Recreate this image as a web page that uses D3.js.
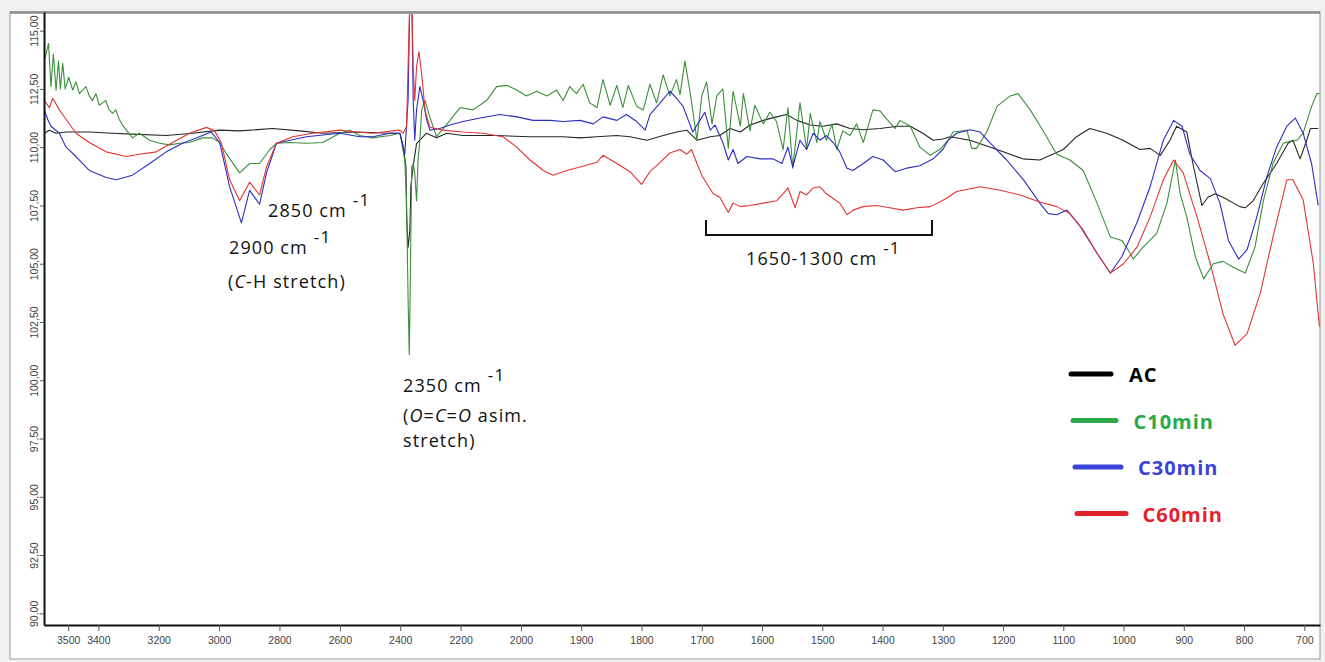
<!DOCTYPE html>
<html>
<head>
<meta charset="utf-8">
<script src="https://cdn.jsdelivr.net/npm/d3@7"></script>
<style>
  body { margin: 0; background: #f1f1f1; }
  svg { display: block; }
  .annot { font-family: "Comic Sans MS", "Open Sans", sans-serif; font-size: 18px; letter-spacing: 1.1px; fill: #111; }
  .legend-label { font-family: "Comic Sans MS", "Open Sans", sans-serif; font-size: 20px; letter-spacing: 1px; font-weight: bold; }
  .axis text { font-family: "Liberation Sans", Arial, sans-serif; font-size: 10.5px; fill: #444; }
</style>
</head>
<body>
<svg id="chart" width="1325" height="662"></svg>
<script>
// wavenumber (cm-1), transmittance (%)
const acData = [
  [3579,110.6],[3562,110.73],[3540,110.6],[3507,110.65],[3430,110.65],[3353,110.6],[3287,110.56],[3175,110.5],
  [3088,110.6],[2998,110.73],[2932,110.7],[2823,110.8],[2733,110.7],[2657,110.6],[2545,110.65],[2434,110.6],
  [2401,110.6],[2390,110.0],[2381,109.15],[2379,107.0],[2374,105.7],[2368,106.45],[2365,108.3],[2357,109.2],
  [2346,110.15],[2335,110.3],[2313,110.6],[2280,110.4],[2246,110.6],[2192,110.5],[2081,110.5],[1985,110.45],
  [1930,110.45],[1902,110.4],[1874,110.45],[1841,110.5],[1819,110.45],[1791,110.3],[1764,110.5],[1742,110.65],
  [1725,110.73],[1708,110.3],[1686,110.45],[1670,110.5],[1653,110.8],[1636,110.65],[1620,110.95],[1598,111.15],
  [1576,111.3],[1559,111.4],[1542,111.15],[1520,110.95],[1499,110.9],[1476,111.0],[1454,110.8],[1432,110.75],
  [1404,110.8],[1376,110.9],[1354,110.9],[1333,110.6],[1316,110.3],[1300,110.35],[1288,110.45],[1255,110.3],
  [1210,109.9],[1167,109.5],[1139,109.45],[1100,109.9],[1078,110.45],[1056,110.8],[1028,110.6],[1001,110.3],
  [973,109.9],[956,109.95],[939,109.65],[923,110.3],[912,110.9],[895,110.65],[885,109.3],[870,107.5],
  [860,107.85],[848,108.0],[835,107.85],[807,107.45],[798,107.4],[785,107.7],[768,108.45],[746,109.3],
  [727,110.17],[719,110.3],[707,109.5],[696,110.3],[690,110.8],[677,110.8]
];

const c10Data = [
  [3579,113.7],[3565,114.45],[3557,112.6],[3549,114.0],[3540,112.45],[3532,113.7],[3526,112.5],[3518,113.6],
  [3510,112.5],[3498,113.0],[3485,112.45],[3474,112.8],[3463,112.3],[3452,112.45],[3441,112.6],[3430,112.2],
  [3419,112.0],[3408,112.3],[3397,111.8],[3386,111.9],[3375,112.0],[3364,111.6],[3353,111.45],[3342,111.6],
  [3331,111.2],[3320,110.95],[3287,110.4],[3264,110.6],[3230,110.3],[3197,110.17],[3164,110.1],[3131,110.17],
  [3098,110.2],[3055,110.4],[3022,110.4],[2998,110.2],[2975,109.7],[2932,108.9],[2899,109.3],[2866,109.3],
  [2832,109.9],[2809,110.17],[2766,110.2],[2711,110.17],[2657,110.2],[2600,110.6],[2567,110.73],[2534,110.5],
  [2491,110.4],[2434,110.5],[2401,110.6],[2385,109.45],[2379,107.7],[2374,103.45],[2370,101.1],[2366,104.9],
  [2362,109.15],[2357,109.3],[2352,108.9],[2346,107.7],[2341,109.45],[2335,110.3],[2329,111.6],[2318,112.0],
  [2302,111.3],[2280,110.45],[2235,111.15],[2202,111.7],[2159,111.6],[2114,112.0],[2081,112.6],[2047,112.65],
  [2014,112.45],[1991,112.2],[1974,112.4],[1957,112.2],[1941,112.45],[1930,112.0],[1919,112.6],[1908,112.3],
  [1897,112.7],[1886,111.9],[1874,111.7],[1864,112.9],[1852,111.8],[1841,112.65],[1831,111.7],[1822,112.65],
  [1808,111.75],[1797,111.6],[1786,112.7],[1775,111.9],[1764,113.1],[1753,112.2],[1742,112.9],[1736,112.25],
  [1728,113.7],[1719,112.3],[1708,110.3],[1700,112.2],[1692,112.8],[1683,111.0],[1675,112.2],[1665,112.5],
  [1656,109.95],[1648,112.4],[1636,110.9],[1631,112.3],[1620,110.7],[1612,111.8],[1598,111.0],[1587,111.5],
  [1576,111.1],[1565,109.9],[1557,111.7],[1549,109.1],[1537,111.9],[1526,109.9],[1520,111.45],[1509,110.2],
  [1504,111.1],[1493,110.3],[1484,111.0],[1476,109.9],[1466,110.7],[1454,110.5],[1443,111.0],[1432,110.2],
  [1416,111.6],[1404,111.55],[1393,111.2],[1379,110.8],[1371,111.15],[1354,110.9],[1338,110.0],[1321,109.65],
  [1305,109.9],[1291,110.3],[1283,110.65],[1260,110.73],[1252,109.95],[1244,109.95],[1227,110.65],[1210,111.75],
  [1188,112.2],[1175,112.3],[1155,111.6],[1134,110.73],[1111,109.7],[1089,109.45],[1067,109.0],[1044,107.6],
  [1022,106.15],[1003,106.0],[989,105.45],[984,105.2],[968,105.7],[945,106.3],[928,107.6],[914,109.45],
  [906,108.0],[895,107.0],[881,105.3],[867,104.35],[851,105.0],[835,105.1],[818,104.85],[798,104.6],
  [782,105.7],[768,107.7],[752,109.3],[735,110.17],[724,110.25],[712,110.3],[702,110.6],[688,111.75],
  [679,112.3],[675,112.3]
];

const c30Data = [
  [3579,111.6],[3568,111.2],[3557,110.9],[3529,110.6],[3507,110.0],[3474,109.6],[3430,109.0],[3374,108.7],
  [3341,108.6],[3287,108.8],[3230,109.3],[3175,109.8],[3121,110.17],[3065,110.45],[3026,110.65],[2998,110.2],
  [2965,108.3],[2926,106.75],[2899,108.15],[2866,107.55],[2843,108.9],[2810,110.17],[2711,110.45],[2600,110.6],
  [2534,110.45],[2491,110.45],[2434,110.6],[2401,110.6],[2390,110.0],[2385,109.7],[2374,112.0],[2368,116.5],
  [2362,116.5],[2357,112.0],[2352,110.3],[2346,111.6],[2335,112.6],[2324,112.0],[2313,111.2],[2302,110.73],
  [2269,110.8],[2235,110.95],[2192,111.1],[2136,111.25],[2070,111.4],[2014,111.3],[1980,111.15],[1952,111.15],
  [1930,111.1],[1902,111.15],[1880,111.0],[1864,111.3],[1841,111.15],[1825,111.4],[1808,111.1],[1794,110.73],
  [1786,111.4],[1769,111.9],[1753,112.4],[1742,112.1],[1731,111.75],[1715,110.65],[1703,111.15],[1695,111.5],
  [1686,110.73],[1678,110.95],[1665,110.2],[1656,109.45],[1648,109.9],[1640,109.3],[1625,109.6],[1603,109.5],
  [1582,109.5],[1567,109.3],[1557,110.0],[1549,109.15],[1537,110.3],[1526,109.9],[1515,110.6],[1504,110.3],
  [1493,110.5],[1482,110.2],[1471,109.8],[1459,109.1],[1449,109.0],[1432,109.3],[1416,109.6],[1399,109.45],
  [1379,108.95],[1360,109.1],[1338,109.2],[1316,109.5],[1300,109.9],[1291,110.3],[1277,110.6],[1255,110.75],
  [1238,110.65],[1222,110.2],[1194,109.45],[1166,108.6],[1139,107.6],[1125,107.15],[1111,107.1],[1094,107.3],
  [1072,106.6],[1044,105.45],[1022,104.6],[1003,105.3],[978,106.75],[956,108.3],[934,110.3],[917,111.15],
  [903,110.9],[890,109.7],[873,109.0],[856,108.65],[840,107.6],[826,106.0],[809,105.2],[795,105.6],
  [779,107.0],[762,108.75],[746,110.0],[729,110.9],[715,111.25],[702,110.6],[688,109.3],[677,107.5]
];

const c60Data = [
  [3579,112.0],[3562,111.7],[3551,112.1],[3529,111.6],[3507,111.2],[3474,110.6],[3430,110.2],[3374,109.8],
  [3308,109.6],[3264,109.7],[3208,109.8],[3154,110.2],[3098,110.6],[3042,110.85],[3015,110.7],[2993,110.2],
  [2965,108.6],[2932,107.7],[2899,108.5],[2866,107.95],[2843,109.15],[2810,110.17],[2756,110.45],[2690,110.6],
  [2600,110.73],[2545,110.65],[2491,110.6],[2401,110.73],[2390,110.6],[2379,110.9],[2374,113.45],[2368,116.5],
  [2362,116.5],[2357,113.45],[2352,112.0],[2346,113.45],[2338,114.1],[2329,113.15],[2318,111.6],[2302,110.85],
  [2259,110.73],[2192,110.65],[2126,110.6],[2060,110.45],[2014,110.0],[1985,109.45],[1963,109.0],[1947,108.8],
  [1924,109.0],[1902,109.15],[1874,109.35],[1864,109.65],[1841,109.3],[1819,108.95],[1800,108.4],[1786,108.95],
  [1769,109.35],[1753,109.75],[1736,109.9],[1725,109.7],[1717,109.9],[1708,109.3],[1700,108.8],[1692,108.45],
  [1681,108.0],[1670,107.85],[1656,107.2],[1648,107.6],[1636,107.45],[1620,107.5],[1598,107.6],[1576,107.7],
  [1565,108.0],[1557,108.25],[1545,107.4],[1537,108.1],[1526,107.95],[1515,108.25],[1504,108.3],[1493,108.0],
  [1482,107.8],[1471,107.6],[1459,107.1],[1449,107.3],[1432,107.45],[1410,107.5],[1388,107.4],[1366,107.3],
  [1343,107.4],[1321,107.45],[1305,107.65],[1291,107.85],[1277,108.1],[1238,108.3],[1205,108.15],[1172,107.95],
  [1139,107.65],[1111,107.45],[1089,107.15],[1067,106.45],[1044,105.45],[1022,104.6],[1000,105.0],[978,105.7],
  [956,107.0],[934,108.6],[917,109.45],[901,108.9],[878,107.0],[856,105.0],[835,102.85],[815,101.5],
  [795,102.0],[773,103.75],[752,106.15],[729,108.6],[719,108.6],[702,107.75],[685,105.0],[675,102.3]
];

const seriesNames = ["AC", "C10min", "C30min", "C60min"];
const xTicks = [3500, 3400, 3200, 3000, 2800, 2600, 2400, 2200, 2000, 1900, 1800, 1700, 1600, 1500, 1400, 1300, 1200, 1100, 1000, 900, 800, 700];
const yTicks = [90, 92.5, 95, 97.5, 100, 102.5, 105, 107.5, 110, 112.5, 115];

const SERIES = [
  { name: seriesNames[0], data: acData, color: "#262626", legend: "#000000" },
  { name: seriesNames[1], data: c10Data, color: "#3b8f3b", legend: "#2aa84a" },
  { name: seriesNames[2], data: c30Data, color: "#2d2dc2", legend: "#3a44d4" },
  { name: seriesNames[3], data: c60Data, color: "#e23535", legend: "#e4222c" }
];

// the instrument plots 4000-2000 at half the scale of 2000-400
const X_SCALE = d3.scaleLinear().domain([3580, 2000, 674]).range([44, 521, 1320]);
const Y_SCALE = d3.scaleLinear().domain([89.5, 115.8]).range([625, 12]);

const svg = d3.select("#chart");

function createFrame(chart) {
  chart.append("rect")
    .attr("x", 10).attr("y", 12)
    .attr("width", 1310).attr("height", 647)
    .attr("fill", "#ffffff")
    .attr("stroke", "#b8b8b8")
    .attr("stroke-width", 1.5);
  chart.append("line")
    .attr("x1", 10).attr("x2", 1320)
    .attr("y1", 12.5).attr("y2", 12.5)
    .attr("stroke", "#8c8c8c")
    .attr("stroke-width", 2.5);
}

function createAxes(chart) {
  const X_AXIS = d3.axisBottom(X_SCALE).tickValues(xTicks).tickSize(6).tickSizeOuter(0).tickFormat(d => d);
  const xg = chart.append("g")
    .attr("class", "axis")
    .attr("transform", "translate(0, 625)")
    .call(X_AXIS);
  xg.selectAll(".tick line").attr("stroke", "#555");
  xg.selectAll(".tick text").attr("y", 12);

  const Y_AXIS = d3.axisLeft(Y_SCALE).tickValues(yTicks).tickSize(4).tickSizeOuter(0)
    .tickFormat(d => d3.format(".2f")(d).replace(".", ","));
  const yg = chart.append("g")
    .attr("class", "axis")
    .attr("transform", "translate(44, 0)")
    .call(Y_AXIS);
  yg.selectAll(".tick line").attr("stroke", "#555");
  yg.selectAll(".tick text")
    .attr("transform", "rotate(-90)")
    .attr("x", 0)
    .attr("y", -6)
    .attr("dy", 0)
    .attr("text-anchor", "middle");

  [xg, yg].forEach(g => g.select(".domain").attr("stroke", "#111").attr("stroke-width", 2));
}

function createLines(chart) {
  chart.append("clipPath").attr("id", "plot-clip")
    .append("rect").attr("x", 44).attr("y", 14).attr("width", 1276).attr("height", 611);

  const LINE = d3.line()
    .x(d => X_SCALE(d[0]))
    .y(d => Y_SCALE(d[1]));

  chart.append("g")
    .attr("clip-path", "url(#plot-clip)")
    .selectAll(".series")
    .data(SERIES)
    .enter()
    .append("path")
    .classed("series", true)
    .attr("d", s => LINE(s.data))
    .attr("fill", "none")
    .attr("stroke", s => s.color)
    .attr("stroke-width", 1.1)
    .attr("stroke-linejoin", "round");
}

function createLegend(chart) {
  const items = chart.append("g")
    .selectAll(".legend")
    .data(SERIES)
    .enter()
    .append("g")
    .classed("legend", true)
    .attr("transform", (s, i) => `translate(${1071 + i * 2}, ${374 + i * 46.5})`);

  items.append("line")
    .attr("x1", 0).attr("x2", (s, i) => 40 + i * 3)
    .attr("stroke", s => s.legend)
    .attr("stroke-width", 5)
    .attr("stroke-linecap", "round");

  items.append("text")
    .classed("legend-label", true)
    .attr("x", (s, i) => 58 + i * 2.5)
    .attr("y", 8)
    .attr("fill", s => s.legend)
    .text(s => s.name);
}

// parts: [text, italic?]; sup adds a raised "-1"
function addNote(chart, x, y, parts, sup) {
  const t = chart.append("text").attr("class", "annot").attr("x", x).attr("y", y);
  parts.forEach(p => {
    t.append("tspan").attr("font-style", p[1] ? "italic" : null).text(p[0]);
  });
  if (sup) {
    t.append("tspan").attr("dx", 6).attr("dy", -11).attr("font-size", 17).text("-1");
  }
}

function createAnnotations(chart) {
  addNote(chart, 268, 217, [["2850 cm", false]], true);
  addNote(chart, 229, 254, [["2900 cm", false]], true);
  addNote(chart, 228, 288, [["(", false], ["C", true], ["-H stretch)", false]], false);
  addNote(chart, 403, 392, [["2350 cm", false]], true);
  addNote(chart, 403, 422, [["(", false], ["O", true], ["=", false], ["C", true], ["=", false], ["O", true], [" asim.", false]], false);
  addNote(chart, 403, 447, [["stretch)", false]], false);
  addNote(chart, 746, 265, [["1650-1300 cm", false]], true);

  chart.append("path")
    .attr("d", "M706,220V235H932V220")
    .attr("fill", "none")
    .attr("stroke", "#111")
    .attr("stroke-width", 2);
}

function renderChart(chart) {
  createFrame(chart);
  createLines(chart);
  createAxes(chart);
  createAnnotations(chart);
  createLegend(chart);
}

renderChart(svg);
</script>
</body>
</html>
